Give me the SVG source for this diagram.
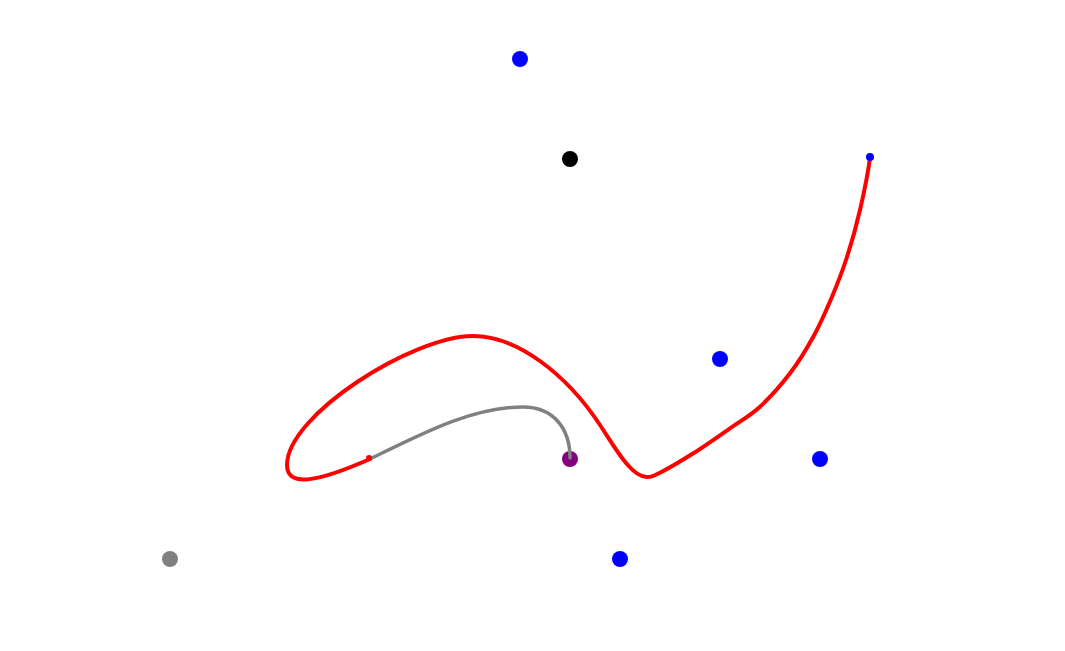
<svg xmlns="http://www.w3.org/2000/svg" width="1065" height="651" viewBox="0 0 1065 651">
<style>
.curve{fill:none;stroke-linecap:round;stroke-linejoin:round}
.red{stroke:#ff0000;stroke-width:4}
.gray{stroke:#808080;stroke-width:3.5}
.blue{fill:#0000ff}
</style>
<rect width="1065" height="651" fill="#ffffff"/>
<g id="nodes">
<g id="p-blue-1"><circle class="blue" cx="520" cy="59" r="8"/></g>
<g id="p-black"><circle cx="570" cy="159" r="8" fill="#000000"/></g>
<g id="p-blue-2"><circle class="blue" cx="720" cy="359" r="8"/></g>
<g id="p-blue-3"><circle class="blue" cx="820" cy="459" r="8"/></g>
<g id="p-blue-4"><circle class="blue" cx="620" cy="559" r="8"/></g>
<g id="p-gray"><circle cx="170" cy="559" r="8" fill="#808080"/></g>
<g id="p-purple"><circle cx="570" cy="459" r="8" fill="#800080"/></g>
</g>
<g id="connectors">
<path class="curve gray" d="M370,459 C424,432.6 473,407 523,407 C553,407 570,428 570,458"/>
<path class="curve red" d="M870,158 C867.7,175 863.83,193.5 860,210 C856.17,226.5 851.75,242.33 847,257 C842.25,271.67 837.12,284.72 831.5,298 C825.88,311.28 820.22,324.15 813.3,336.7 C806.38,349.25 798.88,361.63 790,373.3 C781.12,384.97 770,397.53 760,406.7 C750,415.87 741.12,420.53 730,428.3 C718.88,436.07 705,445.9 693.3,453.3 C681.63,460.7 667.77,468.75 660,472.7 C652.23,476.65 651.7,477 646.7,477 C631,477 614,446 600,425 C567,375 518,336 473,336 C413,336 287,415 287,465 C287,490 324.5,479 370,459"/>
<circle cx="369" cy="458" r="3" fill="#ff0000"/>
</g>
<g id="p-start"><circle class="blue" cx="870" cy="157" r="4"/></g>
</svg>
